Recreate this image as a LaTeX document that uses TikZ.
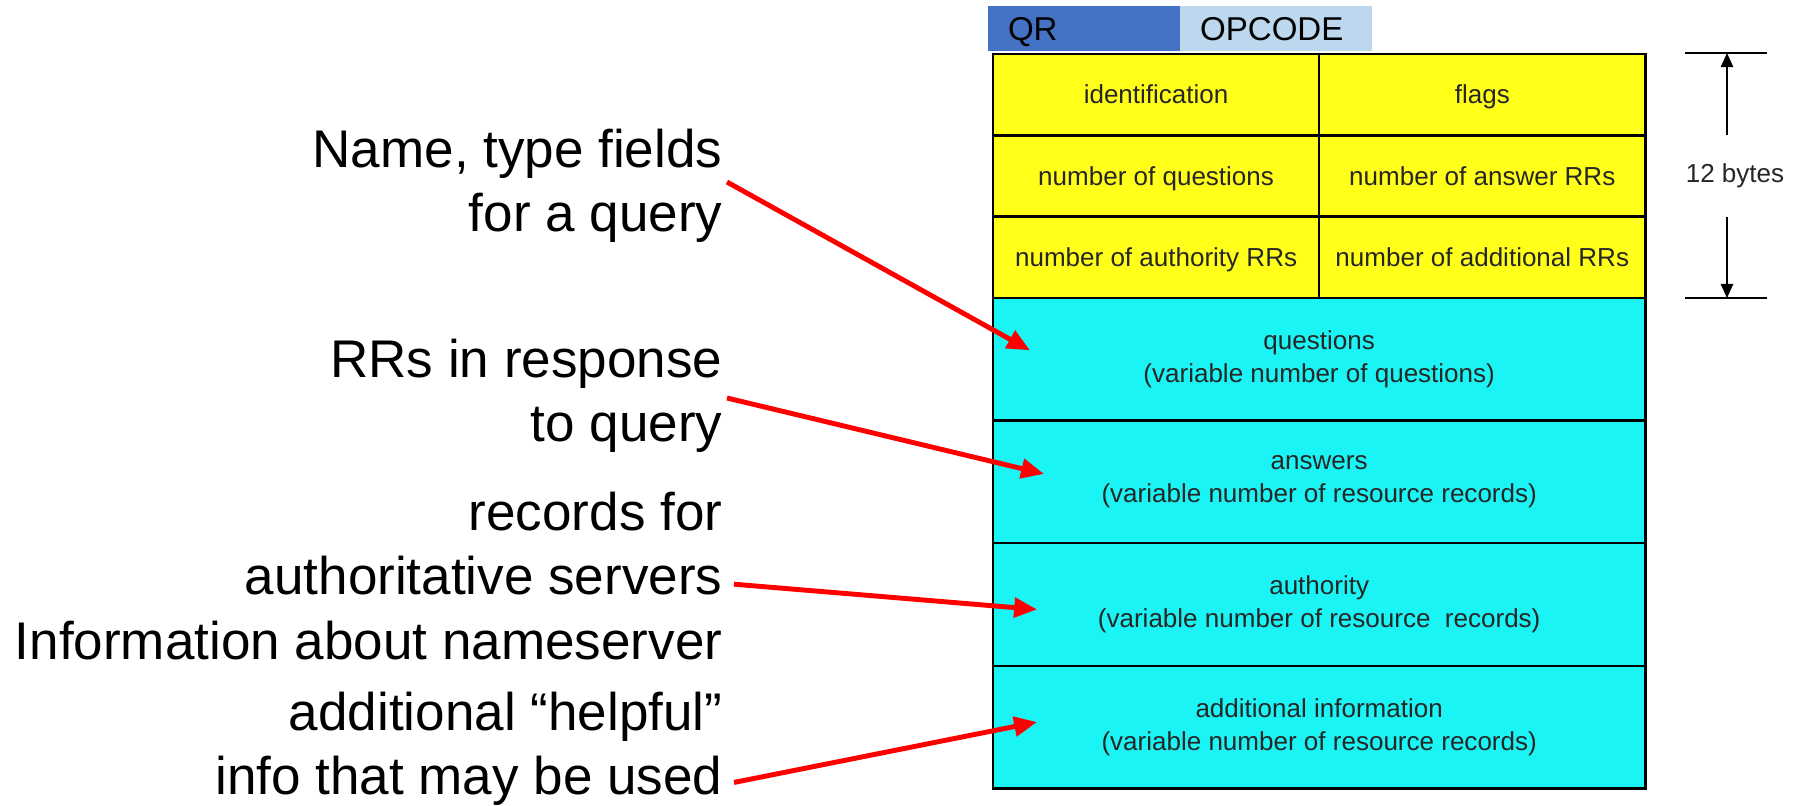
\documentclass[tikz,border=0pt]{standalone}
\usepackage{fontspec}
\setmainfont{Liberation Sans}
\usepackage{tikz}
\usetikzlibrary{calc,positioning,arrows.meta}
\definecolor{hdryellow}{RGB}{255,255,26}
\definecolor{bodycyan}{RGB}{26,244,244}
\definecolor{qrblue}{RGB}{68,114,196}
\definecolor{oplight}{RGB}{189,215,238}

\begin{document}
\begin{tikzpicture}[x=0.01cm, y=-0.01cm,
    field/.style={draw=black, line width=0.7pt, inner sep=0pt, outer sep=0pt,
      minimum width=3.26cm, font=\fontsize{7.4}{9.4}\selectfont, text=black!85, align=center},
    hdrfield/.style={field, fill=hdryellow, minimum height=0.813cm, text height=0.73em, text depth=0.21em},
    bodyfield/.style={field, fill=bodycyan, minimum width=6.52cm, minimum height=1.225cm},
    bitbox/.style={minimum width=1.92cm, minimum height=0.45cm, inner xsep=0.2cm, inner ysep=0pt,
      outer sep=0pt, text width=1.52cm, align=left, text height=0.72em, text depth=0.05em,
      font=\fontsize{9.4}{11}\selectfont},
    note/.style={align=right, inner sep=0pt, font=\fontsize{15.08}{18.21}\selectfont},
    pointer/.style={-{Triangle[length=6.5pt, width=5.5pt]}, line width=1.4pt, red},
    dimline/.style={line width=0.5pt, black},
    dimarrow/.style={-{Triangle[length=4pt, width=3.5pt]}, line width=0.5pt},
  ]
  \useasboundingbox (0,0) rectangle (1793,806);

  \node[bitbox, fill=qrblue, anchor=north west] (qr) at (988,6) {QR};
  \node[bitbox, fill=oplight, right=0pt of qr] (opcode) {OPCODE};

  \node[hdrfield, anchor=north west] (ident) at (993,54) {identification};
  \node[hdrfield, right=0pt of ident] (flags) {flags};
  \node[hdrfield, below=0pt of ident] (nq) {number of questions};
  \node[hdrfield, below=0pt of flags] (nans) {number of answer RRs};
  \node[hdrfield, below=0pt of nq] (nauth) {number of authority RRs};
  \node[hdrfield, below=0pt of nans] (nadd) {number of additional RRs};

  \node[bodyfield, anchor=north west] (quest) at (nauth.south west) {questions\\(variable number of questions)};
  \node[bodyfield, below=0pt of quest] (answ) {answers\\(variable number of resource records)};
  \node[bodyfield, below=0pt of answ] (auth) {authority\\(variable number of resource~ records)};
  \node[bodyfield, below=0pt of auth] (addl) {additional information\\(variable number of resource records)};

  \coordinate (dimtop) at (1727,53);
  \coordinate (dimbot) at (1727,298);
  \draw[dimline] (dimtop) +(-42,0) -- +(40,0);
  \draw[dimline] (dimbot) +(-42,0) -- +(40,0);
  \node[font=\fontsize{7.4}{9}\selectfont, text=black!85, inner sep=0pt, minimum height=0.8cm] (bytes) at (1735,176) {12 bytes};
  \draw[dimarrow] (bytes.north -| dimtop) -- (dimtop);
  \draw[dimarrow] (bytes.south -| dimbot) -- (dimbot);

  \node[note, anchor=east] (querynote) at (723,186) {Name, type fields\\for a query};
  \node[note, anchor=east] (respnote) at (723,396) {RRs in response\\to query};
  \node[note, anchor=east] (authnote) at (723,544) {records for\\authoritative servers};
  \node[note, anchor=east] (nsnote) at (723,641) {Information about nameserver};
  \node[note, anchor=east] (addnote) at (723,749) {additional “helpful”\\info that may be used};

  \draw[pointer] ($(querynote.east)+(4,-4)$) -- ($(quest.west)+(37,-9)$);
  \draw[pointer] ($(respnote.east)+(4,2)$) -- ($(answ.west)+(51,-8)$);
  \draw[pointer] ($(authnote.south east)+(11,-12)$) -- ($(auth.west)+(44,5)$);
  \draw[pointer] ($(addnote.south east)+(11,-24)$) -- ($(addl.west)+(44,-5)$);
\end{tikzpicture}
\end{document}
